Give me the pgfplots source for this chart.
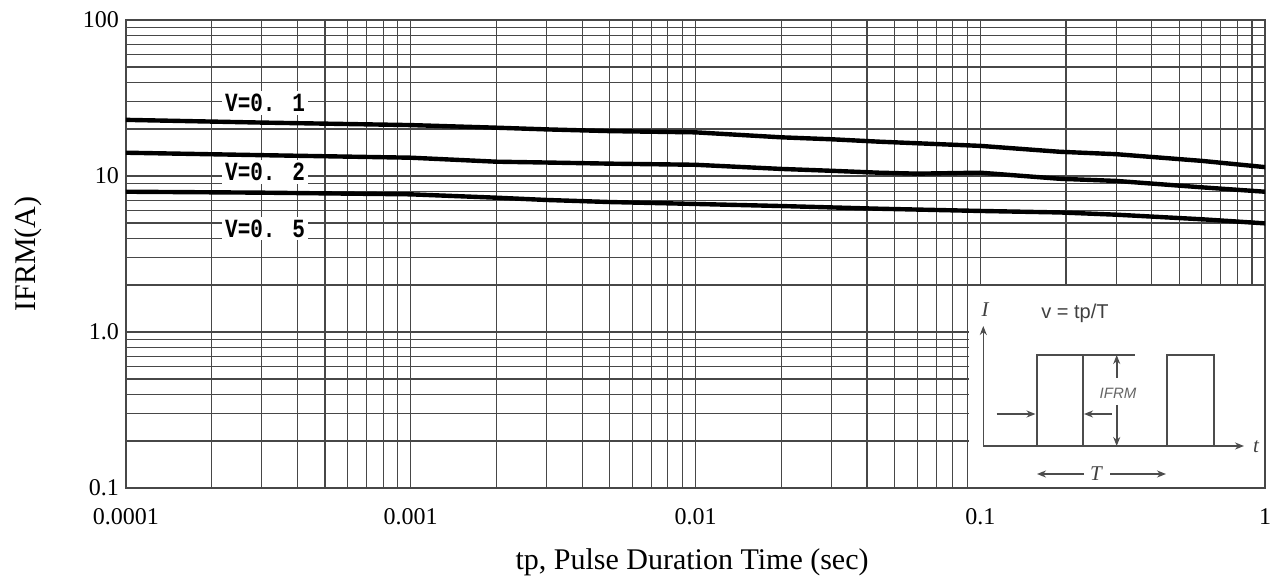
\documentclass[border=0pt]{standalone}
\usepackage{fontspec}
\setmainfont{Liberation Serif}
\newfontfamily\monob{Liberation Mono}[BoldFont={* Bold}]
\newfontfamily\arial{Liberation Sans}
\usepackage{graphicx}
\usepackage{pgfplots}
\pgfplotsset{compat=1.18}
\usetikzlibrary{arrows.meta}

% curves (tp in s, IFRM in A)
\pgfplotstableread{
tp      I
1e-4    22.9
3e-4    22.0
1e-3    21.2
2e-3    20.4
3e-3    19.9
5e-3    19.4
1e-2    19.05
2e-2    17.7
3e-2    17.2
4.4e-2  16.6
1e-1    15.6
0.19    14.3
0.3     13.8
0.6     12.5
1       11.4
}\vten
\pgfplotstableread{
tp      I
1e-4    14.1
3e-4    13.6
1e-3    13.1
2e-3    12.35
3e-3    12.2
5e-3    12.0
1e-2    11.8
2e-2    11.1
3e-2    10.8
4.4e-2  10.5
6e-2    10.35
1e-1    10.5
0.19    9.6
0.3     9.3
0.6     8.46
1       7.93
}\vtwenty
\pgfplotstableread{
tp      I
1e-4    7.93
3e-4    7.82
1e-3    7.63
2e-3    7.26
3e-3    7.02
5e-3    6.81
1e-2    6.62
2e-2    6.42
4.4e-2  6.17
1e-1    5.97
0.19    5.84
0.3     5.65
0.6     5.28
1       4.97
}\vfifty

\begin{document}
\begin{tikzpicture}
\begin{axis}[
    scale only axis,
    width=1139pt, height=468pt,
    xmode=log, ymode=log,
    xmin=1e-4, xmax=1, ymin=0.1, ymax=100,
    xtick={1e-4,1e-3,1e-2,1e-1,1},
    xticklabels={0.0001,0.001,0.01,0.1,1},
    ytick={0.1,1,10,100},
    yticklabels={0.1,1.0,10,100},
    minor xtick={2e-4,3e-4,4e-4,5e-4,6e-4,7e-4,8e-4,9e-4,
                 2e-3,3e-3,4e-3,5e-3,6e-3,7e-3,8e-3,9e-3,
                 2e-2,3e-2,4e-2,5e-2,6e-2,7e-2,8e-2,9e-2,
                 0.2,0.3,0.4,0.5,0.6,0.7,0.8,0.9},
    minor ytick={0.2,0.3,0.4,0.5,0.6,0.7,0.8,0.9,
                 2,3,4,5,6,7,8,9,20,30,40,50,60,70,80,90},
    grid=both,
    major grid style={black!72, line width=1.1pt},
    minor grid style={black!72, line width=1.1pt},
    major tick length=0pt, minor tick length=0pt,
    axis line style={black!72, line width=1.1pt},
    /pgf/number format/assume math mode=true,
    tick label style={font=\fontsize{24}{28}\selectfont},
    xticklabel style={anchor=base, inner sep=0pt, yshift=-36.8pt},
    yticklabel style={anchor=east, inner sep=0pt, xshift=-7pt},
    xlabel={tp, Pulse Duration Time (sec)},
    ylabel={IFRM(A)},
    every axis x label/.style={at={(axis description cs:0.497,-0.158)}, anchor=center,
        font=\fontsize{30}{36}\selectfont},
    every axis y label/.style={at={(axis description cs:-0.086,0.5)}, rotate=90, anchor=center,
        font=\fontsize{30}{36}\selectfont},
]
\addplot[black, line width=4.4pt, line cap=round, line join=round] table[x=tp, y=I] {\vten};
\addplot[black, line width=4.4pt, line cap=round, line join=round] table[x=tp, y=I] {\vtwenty};
\addplot[black, line width=4.4pt, line cap=round, line join=round] table[x=tp, y=I] {\vfifty};

\tikzset{vlab/.style={fill=white, inner sep=3pt, font=\monob\bfseries\fontsize{21}{24}\selectfont}}
\node[vlab] at (axis cs:3.08e-4,29.5) {\scalebox{1}[1.25]{V=0. 1}};
\node[vlab] at (axis cs:3.08e-4,10.6) {\scalebox{1}[1.25]{V=0. 2}};
\node[vlab] at (axis cs:3.08e-4,4.61) {\scalebox{1}[1.25]{V=0. 5}};
\end{axis}

% inset pulse diagram, drawn in reference pixel units
\begin{scope}[x=1pt, y=-1pt, shift={(-126pt,488pt)}]
  \fill[white] (968.8,286.4) rectangle (1264.2,487.2);
  \begin{scope}[black!70, line width=1.6pt, >={Stealth[length=9pt,width=7pt]}]
    \draw[->] (983.3,446) -- (983.3,326);
    \draw[->] (983.3,446) -- (1244,446);
    \draw (1036.7,446) -- (1036.7,355) -- (1135,355);
    \draw (1082.7,355) -- (1082.7,446);
    \draw (1166.7,446) -- (1166.7,355) -- (1214,355) -- (1214,446);
    \draw[->] (1116.7,378) -- (1116.7,355);
    \draw[->] (1116.7,405) -- (1116.7,446);
    \draw[->] (996.7,414) -- (1035.5,414);
    \draw[->] (1111.7,414) -- (1084,414);
    \draw[->] (1084,474) -- (1037,474);
    \draw[->] (1110,474) -- (1166,474);
  \end{scope}
  \node[black!75, font=\itshape\fontsize{21}{24}\selectfont] at (985,310) {I};
  \node[black!75, font=\arial\fontsize{20}{24}\selectfont] at (1075,313) {v = tp/T};
  \node[black!60, font=\arial\itshape\fontsize{15}{18}\selectfont] at (1118,393) {IFRM};
  \node[black!75, font=\itshape\fontsize{21}{24}\selectfont] at (1256,447) {t};
  \node[black!75, font=\itshape\fontsize{21}{24}\selectfont] at (1096,474) {T};
\end{scope}

% page = reference frame
\path (-126pt,-98pt) rectangle (1156pt,488pt);
\end{tikzpicture}
\end{document}
